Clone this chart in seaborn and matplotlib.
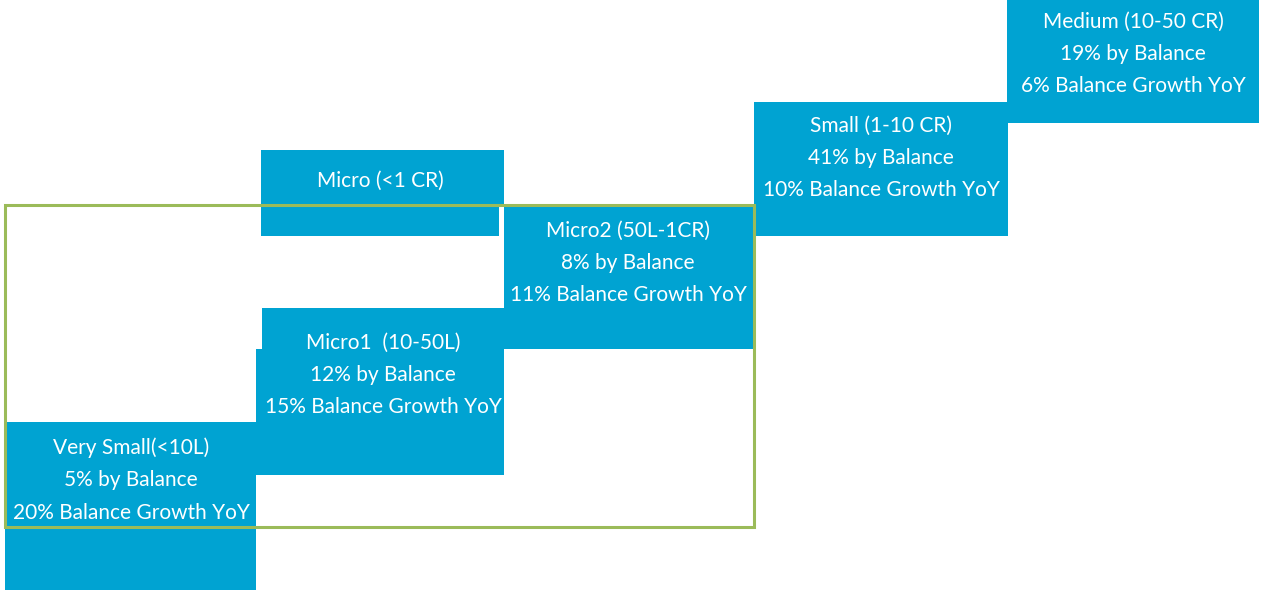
import matplotlib
matplotlib.use("Agg")
import matplotlib.pyplot as plt
from matplotlib.patches import Rectangle
import seaborn as sns

# ---- data ----
segments = ["Very Small(<10L)", "Micro1  (10-50L)", "Micro (<1 CR)", "Micro2 (50L-1CR)",
            "Small (1-10 CR)", "Medium (10-50 CR)"]
balance_share = [5, 12, None, 8, 41, 19]      # % by Balance
balance_growth = [20, 15, None, 11, 10, 6]     # % Balance Growth YoY

# ---- layout (pixel coordinates: x0, x1, y0, y1) ----
boxes = [
    [(5, 256, 422, 590)],
    [(262, 504, 308, 475), (256, 262, 349, 475)],
    [(261, 504, 150, 205), (261, 499, 205, 236)],
    [(504, 753, 205, 349)],
    [(754, 1008, 102, 236)],
    [(1007, 1259, 0, 123)],
]
text_pos = [(131, 480), (383, 375), (380, 181), (628, 263), (881, 158), (1133, 54)]
frame = (5, 754, 205, 527)

BLUE = "#00A3D2"
GREEN = "#9BBB59"

sns.set_theme(style="white")
plt.rcParams['font.family'] = ['Lato', 'DejaVu Sans']

fig = plt.figure(figsize=(12.65, 5.9), dpi=100)
ax = fig.add_axes([0, 0, 1, 1])
ax.set_xlim(0, 1265)
ax.set_ylim(590, 0)
ax.axis("off")

for rects in boxes:
    for (x0, x1, y0, y1) in rects:
        ax.add_patch(Rectangle((x0, y0), x1 - x0, y1 - y0, facecolor=BLUE,
                               edgecolor="none", zorder=2))

fx0, fx1, fy0, fy1 = frame
ax.add_patch(Rectangle((fx0, fy0), fx1 - fx0, fy1 - fy0, facecolor="none",
                       edgecolor=GREEN, linewidth=2.2, zorder=3))

for name, sh, gr, (tx, ty) in zip(segments, balance_share, balance_growth, text_pos):
    if sh is None:
        label = name
    else:
        label = f"{name}\n{sh}% by Balance\n{gr}% Balance Growth YoY"
    ax.text(tx, ty, label, ha="center", va="center", color="white",
            fontsize=15, linespacing=1.78, zorder=4)

fig.savefig("out.png", dpi=100)
